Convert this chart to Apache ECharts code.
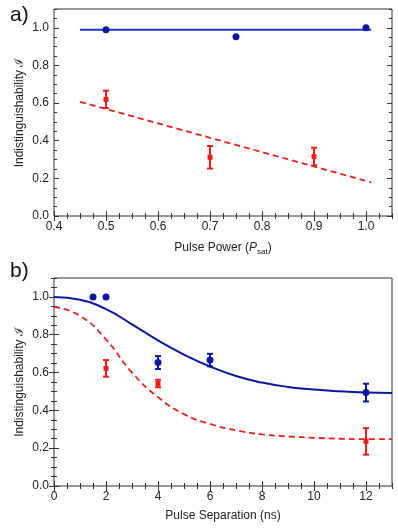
<!DOCTYPE html>
<html>
<head>
<meta charset="utf-8">
<script src="https://cdn.jsdelivr.net/npm/echarts@6/dist/echarts.min.js"></script>
<style>
  html, body { margin: 0; padding: 0; background: #fff; }
  #chart { width: 398px; height: 529px; }
</style>
</head>
<body>
<div id="chart"></div>
<script>
  // panel a) pulse power
  var powerTicks = [0.4, 0.5, 0.6, 0.7, 0.8, 0.9, 1.0]
  var valueTicks = [0.0, 0.2, 0.4, 0.6, 0.8, 1.0]
  var powerBlueX = [0.5, 0.75, 1.0]
  var powerBlueY = [0.99, 0.952, 1.0]
  var powerRedX = [0.5, 0.7, 0.9]
  var powerRedY = [0.62, 0.312, 0.316]
  var powerRedErr = [0.046, 0.06, 0.047]
  var powerBlueFitX = [0.45, 1.01]
  var powerBlueFitY = [0.99, 0.99]
  var powerRedFitX = [0.45, 1.01]
  var powerRedFitY = [0.607, 0.179]

  // panel b) pulse separation
  var sepTicks = [0, 2, 4, 6, 8, 10, 12]
  var sepBlueX = [1.5, 2, 4, 6, 12]
  var sepBlueY = [1.0, 1.0, 0.653, 0.666, 0.494]
  var sepBlueErr = [0, 0, 0.034, 0.033, 0.047]
  var sepRedX = [2, 4, 12]
  var sepRedY = [0.622, 0.542, 0.236]
  var sepRedErr = [0.044, 0.02, 0.07]
  var sepFitX = [0, 1, 2, 3, 4, 5, 6, 7, 8, 9, 10, 11, 12, 13]
  var sepBlueFitY = [1.0, 0.985, 0.935, 0.855, 0.77, 0.695, 0.632, 0.582, 0.547, 0.524, 0.51, 0.501, 0.495, 0.492]
  var sepRedFitY = [0.947, 0.9, 0.775, 0.6, 0.47, 0.38, 0.328, 0.295, 0.273, 0.262, 0.255, 0.25, 0.248, 0.248]

  var BLUE = '#0b179c'
  var BLUE_LINE = '#1f35d8'
  var RED = '#f01c1c'
  var FONT = 'Liberation Sans, Arial, sans-serif'

  function pairs(xs, ys) {
    return xs.map(function (x, i) { return [x, ys[i]] })
  }

  function bars(xs, ys, errs) {
    var out = []
    xs.forEach(function (x, i) {
      if (errs[i] > 0) out.push([x, ys[i] - errs[i], ys[i] + errs[i]])
    })
    return out
  }

  function minorValues(min, max, step, major) {
    var out = []
    for (var v = min; v <= max + 1e-9; v += step) {
      var r = Math.round(v * 1000) / 1000
      if (major.indexOf(r) < 0) out.push(r)
    }
    return out
  }

  // four axes per side of a frame: labelled major, minor, mirrored major, mirrored minor
  function frameAxes(grid, pos, mirror, min, max, major, minor, fmt, name, nameGap) {
    var base = {
      type: 'value', gridIndex: grid, min: min, max: max,
      axisLine: { show: false }, splitLine: { show: false },
      axisLabel: { show: false }
    }
    var mainAxis = Object.assign({}, base, {
      position: pos,
      axisTick: { inside: true, length: 5, customValues: major, lineStyle: { color: '#333' } },
      axisLabel: {
        show: true, customValues: major, formatter: fmt, color: '#222',
        fontFamily: FONT, fontSize: 12, margin: 5
      },
      name: name, nameLocation: 'middle', nameGap: nameGap, nameMoveOverlap: false,
      nameTextStyle: {
        color: '#222', fontFamily: FONT, fontSize: 12,
        rich: {
          n: { fontFamily: FONT, fontSize: 12, color: '#222', lineHeight: 16 },
          i: { fontFamily: FONT, fontSize: 12, color: '#222', fontStyle: 'italic', lineHeight: 16 },
          s: { fontFamily: FONT, fontSize: 8, color: '#222', verticalAlign: 'bottom', lineHeight: 12 }
        }
      }
    })
    var minorAxis = Object.assign({}, base, {
      position: pos,
      axisTick: { inside: true, length: 3, customValues: minor, lineStyle: { color: '#333' } }
    })
    var mirrorMain = Object.assign({}, base, {
      position: mirror,
      axisTick: { inside: true, length: 5, customValues: major, lineStyle: { color: '#333' } }
    })
    var mirrorMinor = Object.assign({}, base, {
      position: mirror,
      axisTick: { inside: true, length: 3, customValues: minor, lineStyle: { color: '#333' } }
    })
    return [mainAxis, minorAxis, mirrorMain, mirrorMinor]
  }

  function errorSeries(data, color, xIdx, yIdx) {
    return {
      type: 'custom', xAxisIndex: xIdx, yAxisIndex: yIdx, z: 4,
      encode: { x: 0, y: [1, 2] },
      data: data,
      renderItem: function (params, api) {
        var top = api.coord([api.value(0), api.value(2)])
        var bot = api.coord([api.value(0), api.value(1)])
        var w = 3
        var st = { stroke: color, lineWidth: 2 }
        return {
          type: 'group',
          children: [
            { type: 'line', shape: { x1: top[0], y1: top[1], x2: bot[0], y2: bot[1] }, style: st },
            { type: 'line', shape: { x1: top[0] - w, y1: top[1], x2: top[0] + w, y2: top[1] }, style: st },
            { type: 'line', shape: { x1: bot[0] - w, y1: bot[1], x2: bot[0] + w, y2: bot[1] }, style: st }
          ]
        }
      }
    }
  }

  var yFmt = function (v) { return v.toFixed(1) }
  var yName = 'Indistinguishability ℐ'

  var xAxes = []
    .concat(frameAxes(0, 'bottom', 'top', 0.4, 1.05, powerTicks,
      minorValues(0.4, 1.05, 0.025, powerTicks), yFmt,
      '{n|Pulse Power (}{i|P}{s|sat}{n|)}', 24))
    .concat(frameAxes(1, 'bottom', 'top', 0, 13, sepTicks,
      minorValues(0, 13, 0.5, sepTicks), function (v) { return String(v) },
      'Pulse Separation (ns)', 24))
  var yAxes = []
    .concat(frameAxes(0, 'left', 'right', 0, 1.1, valueTicks,
      minorValues(0, 1.1, 0.05, valueTicks), yFmt, yName, 28))
    .concat(frameAxes(1, 'left', 'right', 0, 1.1, valueTicks,
      minorValues(0, 1.1, 0.05, valueTicks), yFmt, yName, 28))

  var chart = echarts.init(document.getElementById('chart'))
  chart.setOption({
    backgroundColor: '#fff',
    animation: false,
    title: [
      { text: 'a)', left: 5, top: 0, textStyle: { fontFamily: FONT, fontSize: 21, fontWeight: 'normal', color: '#111' } },
      { text: 'b)', left: 5, top: 256, textStyle: { fontFamily: FONT, fontSize: 21, fontWeight: 'normal', color: '#111' } }
    ],
    grid: [
      { left: 54, right: 6, top: 9, height: 207, show: true, borderColor: '#333', borderWidth: 1, backgroundColor: 'transparent' },
      { left: 54, right: 6, top: 278, height: 208, show: true, borderColor: '#333', borderWidth: 1, backgroundColor: 'transparent' }
    ],
    xAxis: xAxes,
    yAxis: yAxes,
    series: [
      {
        type: 'line', xAxisIndex: 0, yAxisIndex: 0, data: pairs(powerBlueFitX, powerBlueFitY),
        showSymbol: false, lineStyle: { color: BLUE_LINE, width: 2 }
      },
      {
        type: 'line', xAxisIndex: 0, yAxisIndex: 0, data: pairs(powerRedFitX, powerRedFitY),
        showSymbol: false, lineStyle: { color: RED, width: 1.8, type: [6, 4] }
      },
      errorSeries(bars(powerRedX, powerRedY, powerRedErr), RED, 0, 0),
      {
        type: 'scatter', xAxisIndex: 0, yAxisIndex: 0, data: pairs(powerBlueX, powerBlueY),
        symbol: 'circle', symbolSize: 7, itemStyle: { color: BLUE, opacity: 1 }, z: 5
      },
      {
        type: 'scatter', xAxisIndex: 0, yAxisIndex: 0, data: pairs(powerRedX, powerRedY),
        symbol: 'rect', symbolSize: 5, itemStyle: { color: RED, opacity: 1 }, z: 5
      },

      {
        type: 'line', xAxisIndex: 4, yAxisIndex: 4, data: pairs(sepFitX, sepBlueFitY),
        smooth: 0.5, showSymbol: false, lineStyle: { color: BLUE, width: 2 }
      },
      {
        type: 'line', xAxisIndex: 4, yAxisIndex: 4, data: pairs(sepFitX, sepRedFitY),
        smooth: 0.5, showSymbol: false, lineStyle: { color: RED, width: 1.8, type: [6, 4] }
      },
      errorSeries(bars(sepBlueX, sepBlueY, sepBlueErr), BLUE, 4, 4),
      errorSeries(bars(sepRedX, sepRedY, sepRedErr), RED, 4, 4),
      {
        type: 'scatter', xAxisIndex: 4, yAxisIndex: 4, data: pairs(sepBlueX, sepBlueY),
        symbol: 'circle', symbolSize: 7, itemStyle: { color: BLUE, opacity: 1 }, z: 5
      },
      {
        type: 'scatter', xAxisIndex: 4, yAxisIndex: 4, data: pairs(sepRedX, sepRedY),
        symbol: 'rect', symbolSize: 5, itemStyle: { color: RED, opacity: 1 }, z: 5
      }
    ]
  })
</script>
</body>
</html>
